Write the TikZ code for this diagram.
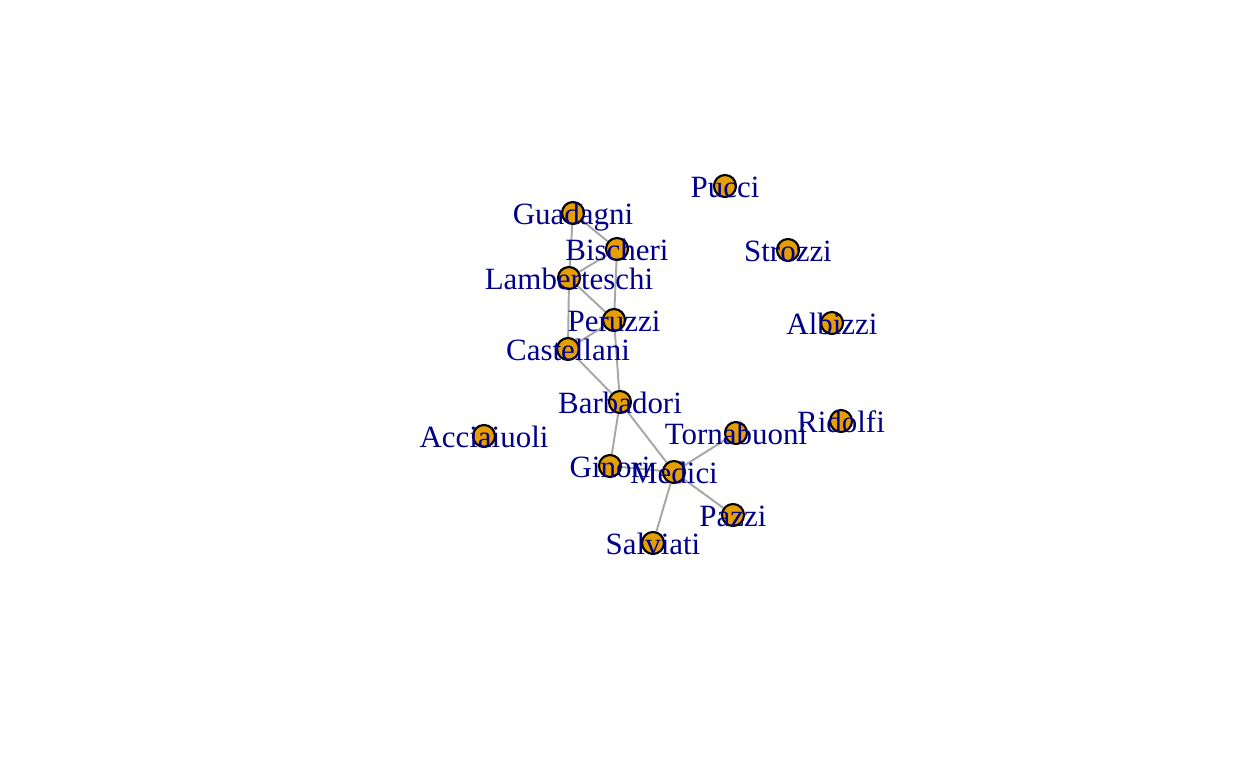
\documentclass[tikz,border=0pt]{standalone}
\usepackage{fontspec}
\setmainfont{Liberation Serif}
\usepackage{tikz}
\usetikzlibrary{backgrounds}
\definecolor{vertexorange}{HTML}{E69F00}
\definecolor{labelblue}{HTML}{00008B}
\definecolor{edgegray}{HTML}{A6A6A6}
\tikzset{
	vertex/.style = { draw = black, fill = vertexorange, circle, line width = 0.6pt, minimum size = 0.22cm, inner sep = 0pt },
	famlabel/.style = { text = labelblue, font = \fontsize{8.8}{10}\selectfont, text height = 0.66em, text depth = 0pt, inner sep = 0pt },
	tie/.style = { draw = edgegray, line width = 0.55pt }
}

\begin{document}
\begin{tikzpicture}[x = 0.01cm, y = -0.01cm]
					\useasboundingbox (0, 0) rectangle (1248, 768);
					
					% Families.
					\node [vertex] (pucci) at (725, 186) {};
					\node [vertex] (guadagni) at (573, 213) {};
					\node [vertex] (bischeri) at (617, 249) {};
					\node [vertex] (strozzi) at (788, 250) {};
					\node [vertex] (lamberteschi) at (569, 278) {};
					\node [vertex] (peruzzi) at (614, 320) {};
					\node [vertex] (albizzi) at (832, 323) {};
					\node [vertex] (castellani) at (568, 349) {};
					\node [vertex] (barbadori) at (620, 402) {};
					\node [vertex] (ridolfi) at (841, 421) {};
					\node [vertex] (acciaiuoli) at (484, 436) {};
					\node [vertex] (tornabuoni) at (736, 433) {};
					\node [vertex] (ginori) at (610, 466) {};
					\node [vertex] (medici) at (674, 472) {};
					\node [vertex] (pazzi) at (733, 515) {};
					\node [vertex] (salviati) at (653, 543) {};
					
					% Ties, under the families.
					\begin{scope}[on background layer]
						\draw [tie] (guadagni) -- (lamberteschi);
						\draw [tie] (guadagni) -- (bischeri);
						\draw [tie] (bischeri) -- (lamberteschi);
						\draw [tie] (bischeri) -- (peruzzi);
						\draw [tie] (lamberteschi) -- (peruzzi);
						\draw [tie] (lamberteschi) -- (castellani);
						\draw [tie] (castellani) -- (peruzzi);
						\draw [tie] (peruzzi) -- (barbadori);
						\draw [tie] (castellani) -- (barbadori);
						\draw [tie] (barbadori) -- (ginori);
						\draw [tie] (barbadori) -- (medici);
						\draw [tie] (ginori) -- (medici);
						\draw [tie] (medici) -- (tornabuoni);
						\draw [tie] (medici) -- (pazzi);
						\draw [tie] (medici) -- (salviati);
					\end{scope}
					
					% Names, over everything.
					\node [famlabel] at (pucci) {Pucci};
					\node [famlabel] at (guadagni) {Guadagni};
					\node [famlabel] at (bischeri) {Bischeri};
					\node [famlabel] at (strozzi) {Strozzi};
					\node [famlabel] at (lamberteschi) {Lamberteschi};
					\node [famlabel] at (peruzzi) {Peruzzi};
					\node [famlabel] at (albizzi) {Albizzi};
					\node [famlabel] at (castellani) {Castellani};
					\node [famlabel] at (barbadori) {Barbadori};
					\node [famlabel] at (ridolfi) {Ridolfi};
					\node [famlabel] at (acciaiuoli) {Acciaiuoli};
					\node [famlabel] at (tornabuoni) {Tornabuoni};
					\node [famlabel] at (ginori) {Ginori};
					\node [famlabel] at (medici) {Medici};
					\node [famlabel] at (pazzi) {Pazzi};
					\node [famlabel] at (salviati) {Salviati};
				\end{tikzpicture}
\end{document}
